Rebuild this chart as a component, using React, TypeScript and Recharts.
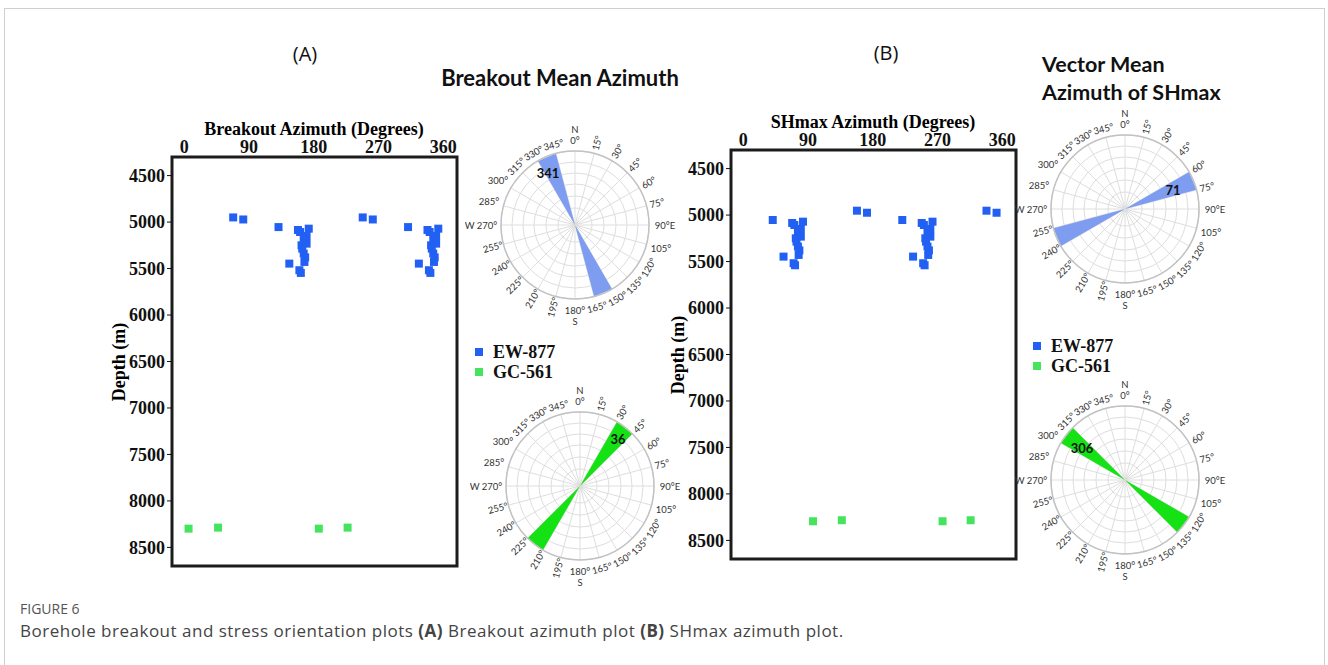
import React from 'react';
import {
  ScatterChart, Scatter, XAxis, YAxis, ZAxis, ReferenceArea,
  RadarChart, Radar, PolarGrid, PolarAngleAxis, PolarRadiusAxis,
} from 'recharts';

// axis ticks
const AZ_TICKS = [0, 90, 180, 270, 360];
const DEPTH_TICKS = [4500, 5000, 5500, 6000, 6500, 7000, 7500, 8000, 8500];

// (A) breakout azimuth vs depth
const BO_EW877_AZ = [68, 82, 131, 161, 173, 158, 170, 166, 170, 163, 164, 166, 168, 167, 146, 160, 162,
  248, 262, 311, 341, 353, 338, 350, 346, 350, 343, 344, 346, 348, 347, 326, 340, 342];
const BO_EW877_DEPTH = [4950, 4972, 5054, 5107, 5071, 5085, 5150, 5178, 5232, 5250, 5286, 5339, 5380, 5429, 5447, 5518, 5547,
  4950, 4972, 5054, 5107, 5071, 5085, 5150, 5178, 5232, 5250, 5286, 5339, 5380, 5429, 5447, 5518, 5547];
const BO_GC561_AZ = [6, 47, 187, 227];
const BO_GC561_DEPTH = [8298, 8287, 8298, 8287];

// (B) SHmax azimuth vs depth
const SH_EW877_AZ = [158, 172, 221, 251, 263, 248, 260, 256, 260, 253, 254, 256, 258, 257, 236, 250, 252,
  338, 352, 41, 71, 83, 68, 80, 76, 80, 73, 74, 76, 78, 77, 56, 70, 72];
const SH_EW877_DEPTH = [4953, 4975, 5053, 5107, 5071, 5085, 5150, 5178, 5232, 5250, 5286, 5339, 5380, 5429, 5447, 5518, 5540,
  4953, 4975, 5053, 5107, 5071, 5085, 5150, 5178, 5232, 5250, 5286, 5339, 5380, 5429, 5447, 5518, 5540];
const SH_GC561_AZ = [97, 137, 277, 316];
const SH_GC561_DEPTH = [8294, 8283, 8294, 8283];

// rose diagrams: 15 degree bins, relative frequency (%)
const ROSE_DIRS = [0, 15, 30, 45, 60, 75, 90, 105, 120, 135, 150, 165, 180, 195, 210, 225, 240, 255, 270, 285, 300, 315, 330, 345];
const ROSE_BO_EW877 = [0, 0, 0, 0, 0, 0, 0, 0, 0, 0, 100, 100, 0, 0, 0, 0, 0, 0, 0, 0, 0, 0, 100, 100];
const ROSE_BO_GC561 = [0, 0, 100, 100, 0, 0, 0, 0, 0, 0, 0, 0, 0, 0, 100, 100, 0, 0, 0, 0, 0, 0, 0, 0];
const ROSE_SH_EW877 = [0, 0, 0, 0, 100, 100, 0, 0, 0, 0, 0, 0, 0, 0, 0, 0, 100, 100, 0, 0, 0, 0, 0, 0];
const ROSE_SH_GC561 = [0, 0, 0, 0, 0, 0, 0, 0, 100, 100, 0, 0, 0, 0, 0, 0, 0, 0, 0, 0, 100, 100, 0, 0];
const MEAN_BO_EW877 = 341;
const MEAN_BO_GC561 = 36;
const MEAN_SH_EW877 = 71;
const MEAN_SH_GC561 = 306;

const BLUE = '#2160F3';
const GREEN = '#45E45E';
const PETAL_BLUE = '#7E9DF0';
const PETAL_GREEN = '#14E214';
const SERIF = '"Liberation Serif", "Times New Roman", serif';
const SANS = 'Lato, "Open Sans", sans-serif';

// how the compass labels are tilted
const LABEL_TILT: Record<number, number> = {
  0: 0, 15: -75, 30: -60, 45: -45, 60: -30, 75: -15, 90: 0, 105: 0, 120: -60, 135: -45, 150: -30, 165: -15,
  180: 0, 195: -75, 210: -60, 225: -45, 240: -30, 255: -15, 270: 0, 285: 0, 300: 0, 315: -45, 330: -30, 345: -15,
};

const toPoints = (az: number[], depth: number[]) => az.map((a, i) => ({ az: a, depth: depth[i] }));

function Txt({ x, y, children, style }: any) {
  return (
    <div style={{ position: 'absolute', left: x, top: y, transform: 'translate(-50%, -50%)', whiteSpace: 'nowrap', lineHeight: 1, ...style }}>
      {children}
    </div>
  );
}

function DepthPlot({ left, top, title, ew, gc }: any) {
  const W = 370;
  const H = 476;
  const tickStyle = { fontSize: 18, fontWeight: 700, fontFamily: SERIF, fill: '#111' };
  return (
    <div style={{ position: 'absolute', left, top, width: W, height: H }}>
      <ScatterChart width={W} height={H} margin={{ top: 0, right: 13, bottom: 10, left: 0 }}>
        <XAxis type="number" dataKey="az" orientation="top" domain={[-17, 379]} ticks={AZ_TICKS}
          height={57} tickLine={false} axisLine={false} tickSize={2} tickMargin={2} tick={tickStyle} />
        <YAxis type="number" dataKey="depth" domain={[4300, 8700]} reversed ticks={DEPTH_TICKS}
          width={72} axisLine={false} tickSize={5} tickMargin={2} tickLine={{ stroke: '#111' }} tick={tickStyle} />
        <ZAxis range={[80, 80]} />
        <ReferenceArea x1={-17} x2={379} y1={4300} y2={8700} fill="none" fillOpacity={0}
          stroke="#1c1c1c" strokeWidth={3} ifOverflow="visible" />
        <Scatter name="EW-877" data={ew} fill={BLUE} shape="square" isAnimationActive={false} />
        <Scatter name="GC-561" data={gc} fill={GREEN} shape="square" isAnimationActive={false} />
      </ScatterChart>
      <Txt x={214} y={29} style={{ fontFamily: SERIF, fontWeight: 700, fontSize: 18 }}>{title}</Txt>
      <Txt x={19} y={262} style={{ fontFamily: SERIF, fontWeight: 700, fontSize: 18, transform: 'translate(-50%, -50%) rotate(-90deg)' }}>
        Depth (m)
      </Txt>
    </div>
  );
}

const RS = 220;
const RC = 110;
const RR = 74;

function RoseTick(props: any) {
  const d = Number(props.payload?.value);
  const rad = (d * Math.PI) / 180;
  const r = d === 285 || d === 300 || d === 105 ? 89 : d >= 315 ? 83 : 85;
  const x = RC + r * Math.sin(rad);
  const y = RC - r * Math.cos(rad);
  const rot = LABEL_TILT[d] ?? 0;
  let label = `${d}°`;
  let dx = 0;
  if (d === 90) { label = '90°E'; dx = 5; }
  if (d === 270) { label = 'W 270°'; dx = -9; }
  const common = { fontFamily: SANS, fontSize: 9.5, fill: '#333', stroke: 'none' };
  return (
    <g>
      <text x={x + dx} y={y} textAnchor="middle" dominantBaseline="central" transform={`rotate(${rot} ${x + dx} ${y})`} {...common}>
        {label}
      </text>
      {d === 0 && <text x={x} y={y - 11} textAnchor="middle" dominantBaseline="central" {...common}>N</text>}
      {d === 180 && <text x={x} y={y + 11} textAnchor="middle" dominantBaseline="central" {...common}>S</text>}
    </g>
  );
}

function Rose({ cx, cy, values, color, mean, mx, my }: any) {
  const data = ROSE_DIRS.map((d, i) => ({ dir: d, v: values[i] }));
  return (
    <div style={{ position: 'absolute', left: cx - RC, top: cy - RC, width: RS, height: RS }}>
      <RadarChart width={RS} height={RS} cx={RC} cy={RC} outerRadius={RR} data={data}
        margin={{ top: 0, right: 0, bottom: 0, left: 0 }}>
        <PolarGrid gridType="circle" polarRadius={[17, 29, 41, 52, 63, 74]} stroke="#dedede" />
        <PolarAngleAxis dataKey="dir" axisLineType="circle" stroke="#c2c2c2" strokeWidth={1.5}
          tickLine={false} tick={(p: any) => <RoseTick {...p} />} />
        <PolarRadiusAxis domain={[0, 100]} tick={false} axisLine={false} />
        <Radar dataKey="v" fill={color} fillOpacity={1} stroke="none" dot={false} isAnimationActive={false} />
      </RadarChart>
      <Txt x={RC + mx} y={RC + my} style={{ fontFamily: SANS, fontWeight: 700, fontSize: 13, color: '#111' }}>{mean}</Txt>
    </div>
  );
}

function Legend({ x, y }: any) {
  const item = (c: string, t: string, dy: number) => (
    <div style={{ position: 'absolute', left: x, top: y + dy - 10, display: 'flex', alignItems: 'center', whiteSpace: 'nowrap' }}>
      <span style={{ width: 8, height: 8, background: c, display: 'inline-block', marginRight: 10 }} />
      <span style={{ fontFamily: SERIF, fontWeight: 700, fontSize: 18, color: '#111', lineHeight: '20px' }}>{t}</span>
    </div>
  );
  return (
    <>
      {item(BLUE, 'EW-877', 0)}
      {item(GREEN, 'GC-561', 20)}
    </>
  );
}

export default function App() {
  return (
    <div style={{ position: 'absolute', left: 0, top: 0, width: 1328, height: 665, background: '#fff', overflow: 'hidden' }}>
      <div style={{ position: 'absolute', left: 4, top: 8, width: 1319, height: 720, border: '1px solid #cfcfcf' }} />

      <Txt x={305} y={54} style={{ fontFamily: '"Open Sans", sans-serif', fontSize: 20, color: '#111' }}>(A)</Txt>
      <Txt x={886} y={53} style={{ fontFamily: '"Open Sans", sans-serif', fontSize: 20, color: '#111' }}>(B)</Txt>
      <Txt x={560} y={78} style={{ fontFamily: SANS, fontWeight: 700, fontSize: 22, color: '#111' }}>Breakout Mean Azimuth</Txt>
      <div style={{ position: 'absolute', left: 1042, top: 50, fontFamily: SANS, fontWeight: 700, fontSize: 21.5, color: '#111', lineHeight: '28px' }}>
        Vector Mean<br />Azimuth of SHmax
      </div>

      <DepthPlot left={100} top={100} title="Breakout Azimuth (Degrees)"
        ew={toPoints(BO_EW877_AZ, BO_EW877_DEPTH)} gc={toPoints(BO_GC561_AZ, BO_GC561_DEPTH)} />
      <DepthPlot left={659} top={93} title="SHmax Azimuth (Degrees)"
        ew={toPoints(SH_EW877_AZ, SH_EW877_DEPTH)} gc={toPoints(SH_GC561_AZ, SH_GC561_DEPTH)} />

      <Legend x={475} y={352} />
      <Legend x={1033} y={346} />

      <Rose cx={575} cy={225} values={ROSE_BO_EW877} color={PETAL_BLUE} mean={MEAN_BO_EW877} mx={-27} my={-52} />
      <Rose cx={580} cy={486} values={ROSE_BO_GC561} color={PETAL_GREEN} mean={MEAN_BO_GC561} mx={38} my={-47} />
      <Rose cx={1125} cy={209} values={ROSE_SH_EW877} color={PETAL_BLUE} mean={MEAN_SH_EW877} mx={48} my={-19} />
      <Rose cx={1125} cy={480} values={ROSE_SH_GC561} color={PETAL_GREEN} mean={MEAN_SH_GC561} mx={-43} my={-32} />

      <div style={{ position: 'absolute', left: 20, top: 599, fontFamily: '"Open Sans", sans-serif', fontSize: 14, color: '#555' }}>FIGURE 6</div>
      <div style={{ position: 'absolute', left: 20, top: 619, fontFamily: '"Open Sans", sans-serif', fontSize: 17, letterSpacing: 0.5, color: '#444', whiteSpace: 'nowrap' }}>
        Borehole breakout and stress orientation plots <b>(A)</b> Breakout azimuth plot <b>(B)</b> SHmax azimuth plot.
      </div>
    </div>
  );
}
